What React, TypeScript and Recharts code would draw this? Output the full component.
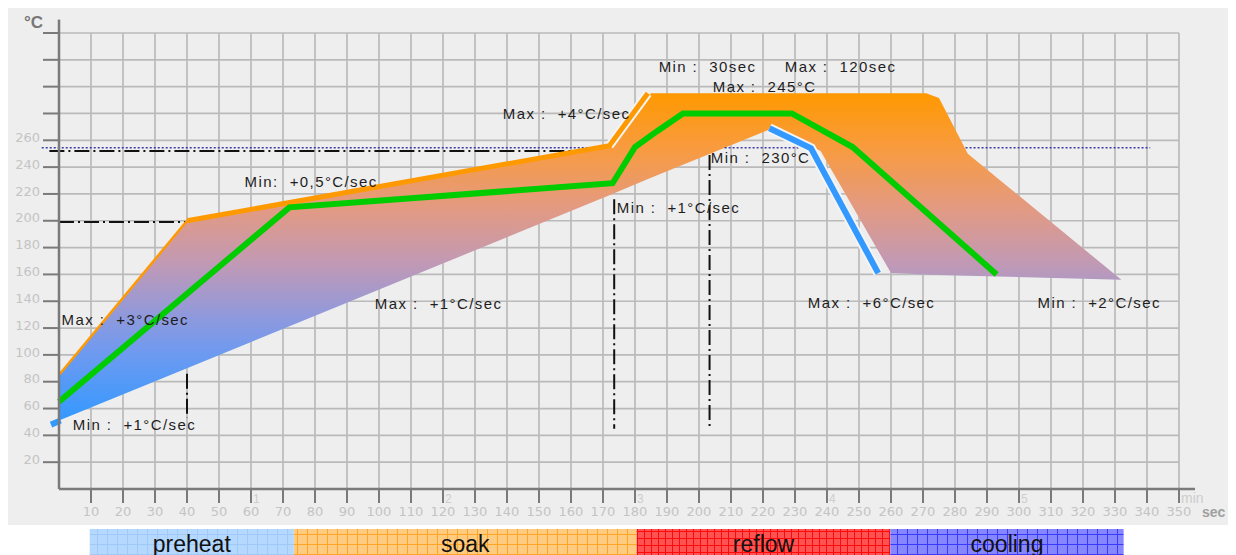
import React from 'react';
import { ComposedChart, Area, Line, Scatter, Bar, XAxis, YAxis, CartesianGrid, ReferenceLine } from 'recharts';

// axes
const secTicks = [10, 20, 30, 40, 50, 60, 70, 80, 90, 100, 110, 120, 130, 140, 150, 160, 170, 180, 190, 200, 210, 220, 230, 240, 250, 260, 270, 280, 290, 300, 310, 320, 330, 340, 350];
const tempTicks = [20, 40, 60, 80, 100, 120, 140, 160, 180, 200, 220, 240, 260, 280, 300, 320, 340];
const lastTempLabel = 260;
const minuteMarks: Record<number, string> = { 60: '1', 120: '2', 180: '3', 240: '4', 300: '5', 350: 'min' };

// process window, [low, high] at each time
const windowBand = [
  { t: 0, range: [51, 85] },
  { t: 40, range: [90, 200] },
  { t: 172, range: [219, 256] },
  { t: 185, range: [232, 295] },
  { t: 223, range: [269, 295] },
  { t: 238, range: [252, 295] },
  { t: 260, range: [161, 295] },
  { t: 271, range: [160, 295] },
  { t: 275, range: [159.5, 291.5] },
  { t: 284, range: [159, 250] },
  { t: 332, range: [156, 156] },
];

// profiles
const maxPreheat = [{ t: 0, v: 85 }, { t: 40, v: 200 }];
const maxSoak = [{ t: 40, v: 200 }, { t: 172, v: 256 }, { t: 184, v: 295 }];
const maxRamp = [{ t: 172, v: 256 }, { t: 184, v: 295 }];
const typicalProfile = [
  { t: 0, v: 65 }, { t: 72, v: 210 }, { t: 173, v: 228 }, { t: 180, v: 255 }, { t: 187, v: 267 },
  { t: 195, v: 280 }, { t: 229, v: 280 }, { t: 248, v: 255 }, { t: 293, v: 160 },
];
const minStart = [{ t: -2.5, v: 48 }, { t: 0.5, v: 51 }];
const minCooling = [{ t: 222, v: 269 }, { t: 235, v: 254 }, { t: 256, v: 161 }];

// guides
const dashDotGuides = [
  [{ t: -3, v: 252 }, { t: 163, v: 252 }],
  [{ t: 0, v: 199 }, { t: 40, v: 199 }],
  [{ t: 40, v: 86 }, { t: 40, v: 53 }],
  [{ t: 173.5, v: 216 }, { t: 173.5, v: 45 }],
  [{ t: 203.3, v: 249 }, { t: 203.3, v: 45 }],
];
const liquidusTemp = 254.5;
const liquidusSpans = [[-5.4, 168.5], [208, 235.8], [283.3, 341]];

const notes = [
  { t: 58, v: 229, text: 'Min:  +0,5°C/sec' },
  { t: 0.8, v: 126, text: 'Max :  +3°C/sec' },
  { t: 4.3, v: 48, text: 'Min :  +1°C/sec' },
  { t: 98.7, v: 138, text: 'Max :  +1°C/sec' },
  { t: 138.7, v: 280, text: 'Max :  +4°C/sec' },
  { t: 187.4, v: 315, text: 'Min :  30sec' },
  { t: 226.8, v: 315, text: 'Max :  120sec' },
  { t: 204.3, v: 299.6, text: 'Max :  245°C' },
  { t: 203.7, v: 247, text: 'Min :  230°C' },
  { t: 174.3, v: 209.7, text: 'Min :  +1°C/sec' },
  { t: 234, v: 138.6, text: 'Max :  +6°C/sec' },
  { t: 305.8, v: 138.6, text: 'Min :  +2°C/sec' },
];

// phases: names and boundaries (sec)
const phaseNames = ['preheat', 'soak', 'reflow', 'cooling'];
const phaseBounds = [9.6, 73.4, 180.5, 259.8, 332.7];
const phaseRow: Record<string, any> = { row: 'phases', lead: phaseBounds[0] };
phaseNames.forEach((n, i) => { phaseRow[n] = phaseBounds[i + 1] - phaseBounds[i]; });
const phaseData = [phaseRow];

const SANS = 'Liberation Sans, Arial, sans-serif';
const TICK_FONT = 'DejaVu Sans, Verdana, sans-serif';
const AXIS = '#7a7a7a';
const phaseStyle = [
  { base: '#b5d8ff', line: '#a0c9f7', cell: 10 },
  { base: '#ffcb80', line: '#ffa626', cell: 10 },
  { base: '#ff5252', line: '#ff0a0a', cell: 7 },
  { base: '#8686ff', line: '#3a3aff', cell: 10 },
];

const XTick = (props: any) => {
  const { x, y, payload } = props;
  const v = payload.value;
  const mark = minuteMarks[v];
  return (
    <g>
      <text x={x} y={y} dy={11} textAnchor="middle" fill="#c4c4c4" fontSize={13} fontFamily={TICK_FONT}>{v}</text>
      {mark && (
        <text x={x + 2} y={y - 2} fill="#cdcdcd" fontSize={mark === 'min' ? 14 : 12} fontFamily={SANS}>{mark}</text>
      )}
    </g>
  );
};

const YTick = (props: any) => {
  const { x, y, payload } = props;
  if (payload.value > lastTempLabel) return <g />;
  return (
    <text x={x} y={y} dy={1.7} textAnchor="end" fill="#c4c4c4" fontSize={13} fontFamily={TICK_FONT}>{payload.value}</text>
  );
};

const NoteText = (p: any) => (
  <text x={p.cx} y={p.cy} dy={5.3} fill="#1e1e1e" fontSize={15} letterSpacing={1.4} fontFamily={SANS} style={{ whiteSpace: 'pre' }}>
    {p.payload.text}
  </text>
);

const phaseLabel = (name: string) => (p: any) => (
  <text x={p.x + p.width / 2} y={p.y + p.height / 2} dy={8.2} textAnchor="middle" fill="#111" fontSize={23} fontFamily={SANS}>{name}</text>
);

export default function App() {
  return (
    <div style={{ width: 1228 }}>
      <style>{'html,body{overflow:hidden}'}</style>
      <div style={{ background: '#eeeeee', height: 517 }}>
        <ComposedChart width={1228} height={517} margin={{ top: 25, right: 57, bottom: 0, left: 0 }}>
          <defs>
            <linearGradient id="bandFill" x1="0" y1="0" x2="0" y2="1">
              <stop offset="0" stopColor="#ff9900" />
              <stop offset="0.17" stopColor="#f89b40" />
              <stop offset="0.35" stopColor="#e39a82" />
              <stop offset="0.52" stopColor="#c199b5" />
              <stop offset="0.68" stopColor="#9099dc" />
              <stop offset="0.79" stopColor="#6f9af0" />
              <stop offset="1" stopColor="#3399ff" />
            </linearGradient>
          </defs>
          <CartesianGrid stroke="#bababa" strokeWidth={1.7} />
          <XAxis
            type="number"
            dataKey="t"
            domain={[0, 350]}
            ticks={secTicks}
            height={36}
            tickSize={14}
            tickMargin={2}
            axisLine={{ stroke: AXIS, strokeWidth: 2.5 }}
            tickLine={{ stroke: AXIS, strokeWidth: 2 }}
            tick={<XTick />}
            label={{
              content: (p: any) => (
                <text x={p.viewBox.x + p.viewBox.width + 23} y={p.viewBox.y + 28} fill="#a0a0a0" fontSize={14} fontWeight="bold" fontFamily={SANS}>sec</text>
              ),
            }}
          />
          <YAxis
            type="number"
            domain={[0, 340]}
            ticks={tempTicks}
            width={51}
            tickSize={16}
            tickMargin={3}
            axisLine={{ stroke: AXIS, strokeWidth: 2.5 }}
            tickLine={{ stroke: AXIS, strokeWidth: 2 }}
            tick={<YTick />}
            label={{
              content: (p: any) => (
                <text x={p.viewBox.x + 35} y={p.viewBox.y - 5} textAnchor="end" fill="#777777" fontSize={17} fontWeight="bold" fontFamily={SANS}>°C</text>
              ),
            }}
          />
          {/* axis lines run a little past the grid */}
          <ReferenceLine segment={[{ x: 350, y: 0 }, { x: 355, y: 0 }]} stroke={AXIS} strokeWidth={2.5} ifOverflow="visible" />
          <ReferenceLine segment={[{ x: 0, y: 340 }, { x: 0, y: 350 }]} stroke={AXIS} strokeWidth={2.5} ifOverflow="visible" />

          {liquidusSpans.map(([a, b], i) => (
            <ReferenceLine key={`liq-${i}`} segment={[{ x: a, y: liquidusTemp }, { x: b, y: liquidusTemp }]} stroke="#3a3aa8" strokeWidth={1.5} strokeDasharray="2 2" ifOverflow="visible" />
          ))}
          {dashDotGuides.map((g, i) => (
            <ReferenceLine key={`dd-${i}`} segment={g.map(p => ({ x: p.t, y: p.v }))} stroke="#111" strokeWidth={2} strokeDasharray="15 4 2 4" ifOverflow="visible" />
          ))}

          <Area data={windowBand} dataKey="range" type="linear" fill="url(#bandFill)" fillOpacity={1} stroke="none" isAnimationActive={false} />

          {/* thin light gaps between the edge lines and the window fill */}
          <Line data={maxRamp} dataKey="v" type="linear" stroke="#f4f4f4" strokeWidth={9} dot={false} activeDot={false} isAnimationActive={false} />
          <Line data={minCooling} dataKey="v" type="linear" stroke="#f4f4f4" strokeWidth={10} dot={false} activeDot={false} isAnimationActive={false} />

          <ReferenceLine segment={minStart.map(p => ({ x: p.t, y: p.v }))} stroke="#3399ff" strokeWidth={6} ifOverflow="visible" />
          <Line data={minCooling} dataKey="v" type="linear" stroke="#3399ff" strokeWidth={6} dot={false} activeDot={false} isAnimationActive={false} />
          <Line data={maxPreheat} dataKey="v" type="linear" stroke="#ff9900" strokeWidth={2.5} dot={false} activeDot={false} isAnimationActive={false} />
          <Line data={maxSoak} dataKey="v" type="linear" stroke="#ff9900" strokeWidth={5} dot={false} activeDot={false} isAnimationActive={false} />
          <Line data={typicalProfile} dataKey="v" type="linear" stroke="#00cc00" strokeWidth={6} dot={false} activeDot={false} isAnimationActive={false} />

          <Scatter data={notes} dataKey="v" shape={<NoteText />} isAnimationActive={false} />
        </ComposedChart>
      </div>
      <ComposedChart
        width={1228}
        height={34}
        data={phaseData}
        layout="vertical"
        barCategoryGap={0}
        margin={{ top: 4, right: 57, bottom: 0, left: 51 }}
      >
        <defs>
          {phaseStyle.map((s, i) => (
            <pattern key={i} id={`phase${i}`} width={s.cell} height={s.cell} patternUnits="userSpaceOnUse">
              <rect width={s.cell} height={s.cell} fill={s.base} />
              <path d={`M ${s.cell - 0.5} 0 V ${s.cell} M 0 ${s.cell - 0.5} H ${s.cell}`} stroke={s.line} strokeWidth={1} />
            </pattern>
          ))}
        </defs>
        <XAxis type="number" domain={[0, 350]} hide />
        <YAxis type="category" dataKey="row" hide />
        <Bar dataKey="lead" stackId="p" fill="none" isAnimationActive={false} />
        {phaseNames.map((name, i) => (
          <Bar
            key={name}
            dataKey={name}
            stackId="p"
            fill={`url(#phase${i})`}
            label={phaseLabel(name)}
            isAnimationActive={false}
          />
        ))}
      </ComposedChart>
    </div>
  );
}
